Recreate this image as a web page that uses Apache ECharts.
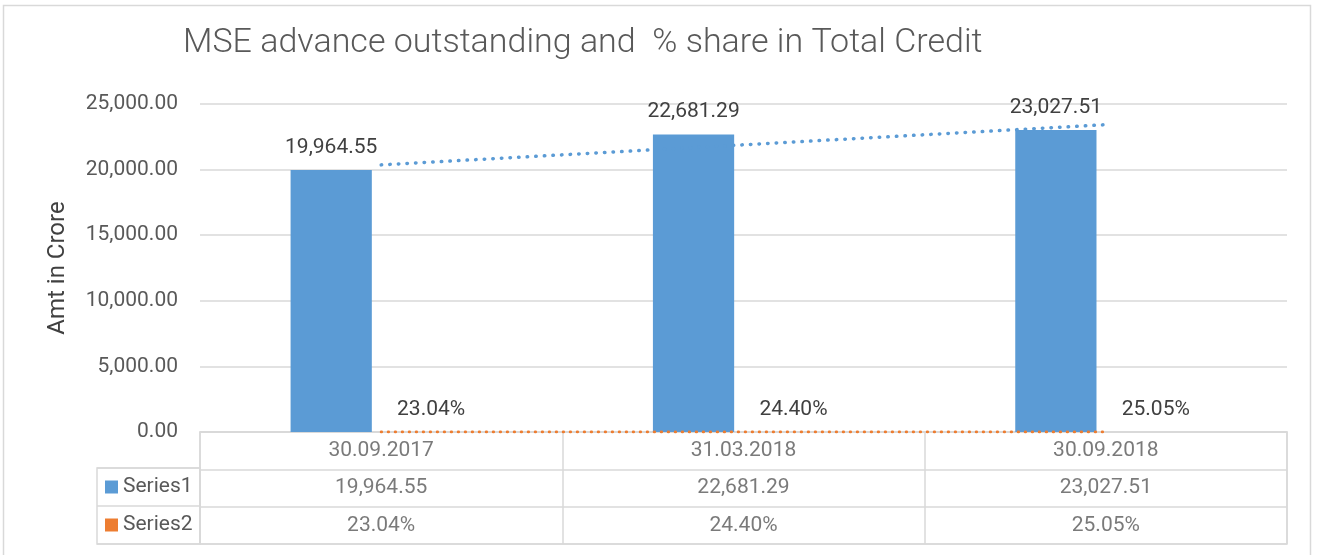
<!DOCTYPE html>
<html>
<head>
<meta charset="utf-8">
<script src="https://cdn.jsdelivr.net/npm/echarts@6/dist/echarts.min.js"></script>
<style>
  html, body { margin: 0; padding: 0; background: #fff; }
  #chart { width: 1317px; height: 555px; }
</style>
</head>
<body>
<div id="chart"></div>
<script>
// data
const categories = ['30.09.2017', '31.03.2018', '30.09.2018']
const seriesNames = ['Series1', 'Series2']
const series1 = [19964.55, 22681.29, 23027.51]
const series2 = [0.2304, 0.2440, 0.2505]
// dotted linear trendlines, values at each category centre
const trend1 = [20360, 21891, 23423]
const trend2 = [0.231, 0.241, 0.251]

const FONT = 'Roboto'
const BLUE = '#5B9BD5'
const ORANGE = '#ED7D31'
const GRID_COLOR = '#d9d9d9'

const fmtAmt = v => v.toLocaleString('en-US', { minimumFractionDigits: 2, maximumFractionDigits: 2 })
const fmtPct = v => (v * 100).toFixed(2) + '%'

// cells of the data table: [column, row, text]
const tableCells = []
categories.forEach((c, i) => tableCells.push([i, 0, c]))
series1.forEach((v, i) => tableCells.push([i, 1, fmtAmt(v)]))
series2.forEach((v, i) => tableCells.push([i, 2, fmtPct(v)]))

const chart = echarts.init(document.getElementById('chart'))

const hiddenAxisBits = {
  axisLine: { show: false },
  axisTick: { show: false },
  axisLabel: { show: false }
}

chart.setOption({
  animation: false,
  backgroundColor: '#fff',
  textStyle: { fontFamily: FONT },
  title: {
    text: 'MSE advance outstanding and  % share in Total Credit',
    left: 178,
    top: 21,
    textStyle: { fontFamily: FONT, fontWeight: 300, fontSize: 34, color: '#595959' }
  },
  graphic: [{
    type: 'rect',
    silent: true,
    shape: { x: 3.5, y: 5.5, width: 1307, height: 600 },
    style: { fill: 'none', stroke: GRID_COLOR, lineWidth: 1.5 }
  }],
  grid: [
    { left: 200, right: 30, top: 104, bottom: 123 },
    { left: 200, right: 30, top: 432, height: 112, show: true, borderColor: GRID_COLOR, borderWidth: 1.5 },
    { left: 97, width: 103, top: 468, height: 76, show: true, borderColor: GRID_COLOR, borderWidth: 1.5 }
  ],
  xAxis: [
    {
      type: 'category',
      gridIndex: 0,
      data: categories,
      axisLine: { lineStyle: { color: GRID_COLOR, width: 1.5 } },
      axisTick: { show: false },
      axisLabel: { show: false }
    },
    {
      type: 'category',
      gridIndex: 1,
      data: categories,
      ...hiddenAxisBits,
      splitLine: { show: true, interval: 0, lineStyle: { color: GRID_COLOR, width: 1.5 } }
    },
    {
      type: 'value',
      gridIndex: 2,
      min: 0,
      max: 1,
      ...hiddenAxisBits,
      splitLine: { show: false }
    }
  ],
  yAxis: [
    {
      type: 'value',
      gridIndex: 0,
      min: 0,
      max: 25000,
      interval: 5000,
      name: 'Amt in Crore',
      nameLocation: 'middle',
      nameGap: 130,
      nameRotate: 90,
      nameTextStyle: { fontFamily: FONT, fontSize: 24, color: '#404040' },
      axisLine: { show: false },
      axisTick: { show: false },
      axisLabel: { margin: 22, fontFamily: FONT, fontSize: 21, color: '#595959', formatter: v => fmtAmt(v) },
      splitLine: { lineStyle: { color: GRID_COLOR, width: 1.5 } }
    },
    {
      type: 'category',
      gridIndex: 1,
      inverse: true,
      data: ['head', 'Series1', 'Series2'],
      ...hiddenAxisBits,
      splitLine: { show: true, interval: 0, lineStyle: { color: GRID_COLOR, width: 1.5 } }
    },
    {
      type: 'category',
      gridIndex: 2,
      inverse: true,
      data: seriesNames,
      axisLine: { show: false },
      axisTick: { show: false },
      axisLabel: {
        inside: true,
        margin: 8,
        formatter: (v, i) => '{k' + i + '|}{t|' + v + '}',
        rich: {
          k0: { width: 13, height: 13, backgroundColor: BLUE },
          k1: { width: 13, height: 13, backgroundColor: ORANGE },
          t: { fontFamily: FONT, fontSize: 21, color: '#595959', padding: [0, 0, 0, 5] }
        }
      },
      splitLine: { show: true, interval: 0, lineStyle: { color: GRID_COLOR, width: 1.5 } }
    }
  ],
  series: [
    {
      name: 'Series1',
      type: 'bar',
      xAxisIndex: 0,
      yAxisIndex: 0,
      data: series1,
      barGap: '23%',
      barCategoryGap: '50%',
      itemStyle: { color: BLUE },
      label: {
        show: true,
        position: 'top',
        distance: 12,
        fontFamily: FONT,
        fontSize: 21,
        color: '#404040',
        formatter: p => fmtAmt(p.value)
      }
    },
    {
      name: 'Series2',
      type: 'bar',
      xAxisIndex: 0,
      yAxisIndex: 0,
      data: series2,
      itemStyle: { color: ORANGE },
      label: {
        show: true,
        position: 'top',
        distance: 12,
        fontFamily: FONT,
        fontSize: 21,
        color: '#404040',
        formatter: p => fmtPct(p.value)
      }
    },
    {
      name: 'Trend1',
      type: 'line',
      xAxisIndex: 0,
      yAxisIndex: 0,
      data: trend1,
      showSymbol: false,
      z: 3,
      lineStyle: { color: BLUE, width: 3.5, type: [0.5, 8.1], cap: 'round' }
    },
    {
      name: 'Trend2',
      type: 'line',
      xAxisIndex: 0,
      yAxisIndex: 0,
      data: trend2,
      showSymbol: false,
      z: 3,
      lineStyle: { color: ORANGE, width: 2.8, type: [0.5, 6.5], cap: 'round' }
    },
    {
      name: 'table',
      type: 'scatter',
      xAxisIndex: 1,
      yAxisIndex: 1,
      data: tableCells,
      symbolSize: 1,
      itemStyle: { color: 'rgba(0,0,0,0)' },
      silent: true,
      label: {
        show: true,
        position: 'inside',
        fontFamily: FONT,
        fontSize: 21,
        color: '#595959',
        formatter: p => p.data[2]
      }
    }
  ]
})
</script>
</body>
</html>
